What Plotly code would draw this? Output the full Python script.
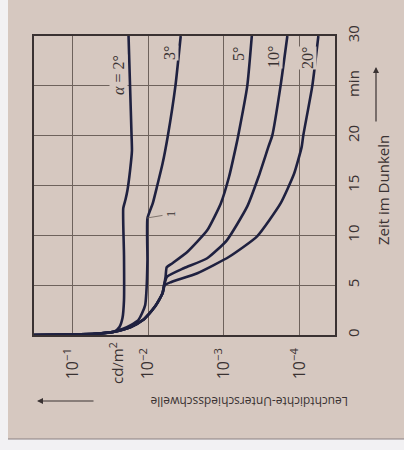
import plotly.graph_objects as go

# ---- data (time in min, threshold as log10 of cd/m^2) ----
t_2 = [0, 0.05, 0.12, 0.33, 0.8, 1.7, 3.5, 8, 12.7, 13.6, 14.5, 16.5, 18.5, 20, 25, 30]
l_2 = [-0.49, -1.0, -1.3, -1.55, -1.62, -1.66, -1.68, -1.68, -1.67, -1.70, -1.725, -1.76, -1.785, -1.78, -1.76, -1.74]

t_3 = [0, 0.05, 0.12, 0.33, 0.6, 1.0, 1.5, 2.2, 3.0, 4.2, 7.5, 11.7, 13.2, 15, 17.2, 20, 25, 30]
l_3 = [-0.49, -1.0, -1.3, -1.55, -1.66, -1.77, -1.87, -1.92, -1.96, -1.975, -1.99, -1.99, -2.06, -2.12, -2.19, -2.26, -2.36, -2.43]

t_5 = [0, 0.05, 0.12, 0.33, 0.8, 1.5, 2.2, 2.85, 3.6, 4.2, 5.0, 5.85, 6.8, 7.2, 8.35, 10.5, 13.2, 15.9, 18.9, 20, 25, 30]
l_5 = [-0.49, -1.0, -1.3, -1.55, -1.77, -1.93, -2.02, -2.09, -2.15, -2.19, -2.21, -2.23, -2.245, -2.32, -2.52, -2.78, -2.96, -3.07, -3.16, -3.19, -3.31, -3.37]

t_10 = [0, 0.05, 0.12, 0.33, 0.8, 1.5, 2.2, 2.85, 3.6, 4.2, 5.0, 5.85, 6.7, 7.7, 9.5, 12.9, 15.9, 18.9, 20, 25, 30]
l_10 = [-0.49, -1.0, -1.3, -1.55, -1.77, -1.93, -2.02, -2.09, -2.15, -2.19, -2.21, -2.25, -2.47, -2.78, -3.04, -3.31, -3.46, -3.59, -3.64, -3.75, -3.84]

t_20 = [0, 0.05, 0.12, 0.33, 0.8, 1.5, 2.2, 2.85, 3.6, 4.2, 5.0, 5.3, 6.2, 7.85, 9.9, 13.2, 16.2, 18.9, 20, 25, 30]
l_20 = [-0.49, -1.0, -1.3, -1.55, -1.77, -1.93, -2.02, -2.09, -2.15, -2.19, -2.22, -2.30, -2.65, -3.07, -3.44, -3.75, -3.93, -4.03, -4.05, -4.17, -4.25]

curves = [("α = 2°", t_2, l_2), ("3°", t_3, l_3), ("5°", t_5, l_5), ("10°", t_10, l_10), ("20°", t_20, l_20)]

lum_ticks = [1e-1, 1e-2, 1e-3, 1e-4]
lum_ticktext = ["10<sup>−1</sup>", "10<sup>−2</sup>", "10<sup>−3</sup>", "10<sup>−4</sup>"]
time_ticks = [0, 5, 10, 15, 20, 25, 30]
time_ticktext = ["0", "5", "10", "15", "20", "min", "30"]

# ---- styling ----
W, H = 404, 450
L_M, R_M, T_M, B_M = 34, 69, 36, 115
PW, PH = W - L_M - R_M, H - T_M - B_M
PAPER = "#d6c8c0"
INK = "#3a3232"
CURVE = "#1f2140"
GRID = "#6e625c"


def px(x):
    return (x - L_M) / PW


def py(y):
    return (H - B_M - y) / PH


fig = go.Figure()
for name, t, l in curves:
    fig.add_trace(go.Scatter(
        x=[10 ** v for v in l], y=t, mode="lines", name=name,
        line=dict(color=CURVE, width=2.6, shape="spline", smoothing=0.5),
        showlegend=False, hoverinfo="skip"))

fig.add_shape(type="rect", xref="paper", yref="paper",
              x0=px(8), x1=px(410), y0=py(439), y1=py(-5),
              fillcolor=PAPER, line=dict(width=0), layer="below")
fig.add_shape(type="line", xref="paper", yref="paper",
              x0=px(8), x1=px(410), y0=py(439), y1=py(439),
              line=dict(color="#8a8082", width=1.2), layer="below")

tickfont = dict(family="Open Sans, sans-serif", size=16, color=INK)
fig.update_xaxes(type="log", range=[-0.49, -4.47], tickvals=lum_ticks, ticktext=lum_ticktext,
                 tickangle=-90, tickfont=tickfont, ticks="", ticklabelstandoff=5,
                 showgrid=True, gridcolor=GRID, gridwidth=1,
                 showline=True, mirror=True, linecolor="#3a3232", linewidth=1.6, zeroline=False)
fig.update_yaxes(range=[0, 30], side="right", tickvals=time_ticks, ticktext=time_ticktext,
                 tickangle=-90, tickfont=dict(family="Open Sans, sans-serif", size=15, color=INK),
                 ticks="", ticklabelstandoff=4,
                 showgrid=True, gridcolor=GRID, gridwidth=1,
                 showline=True, mirror=True, linecolor="#3a3232", linewidth=1.6, zeroline=False)


def label(text, x, y, angle, font, **kw):
    fig.add_annotation(xref="paper", yref="paper", x=px(x), y=py(y), text=text, textangle=angle,
                       xanchor="center", yanchor="middle", showarrow=False, font=font, **kw)


serif = dict(family="Liberation Serif, serif", size=16, color=INK)
label_pos = [("<i>α</i> = 2°", 118, 75), ("3°", 170, 53), ("5°", 239, 54), ("10°", 274, 57), ("20°", 308, 58)]
for text, x, y in label_pos:
    label(text, x, y, -90, serif, bgcolor=PAPER, borderpad=0)

# curve marker "1"
fig.add_annotation(xref="paper", yref="paper", x=px(147), y=py(218), ax=24, ay=-4,
                   text="1", textangle=-90, showarrow=True, arrowhead=0, arrowwidth=0.8,
                   arrowcolor="#6a5e58", font=dict(family="Liberation Serif, serif", size=12, color=INK))

# unit label
label("cd/m<sup>2</sup>", 116, 363, -90, dict(family="Open Sans, sans-serif", size=15, color=INK))

# axis titles
label("Zeit im Dunkeln", 383, 190, -90, dict(family="Open Sans, sans-serif", size=15, color=INK))
fig.add_annotation(xref="paper", yref="paper", x=px(376), y=py(67), ax=0, ay=56, text="",
                   showarrow=True, arrowhead=2, arrowsize=1, arrowwidth=1.2, arrowcolor=INK)
label("Leuchtdichte-Unterschiedsschwelle", 249, 402, 180,
      dict(family="Open Sans, sans-serif", size=12, color=INK))
fig.add_annotation(xref="paper", yref="paper", x=px(37), y=py(401), ax=58, ay=0, text="",
                   showarrow=True, arrowhead=2, arrowsize=1, arrowwidth=1.2, arrowcolor=INK)

fig.update_layout(width=W, height=H, autosize=False,
                  margin=dict(l=L_M, r=R_M, t=T_M, b=B_M),
                  paper_bgcolor="#f2f1f3", plot_bgcolor=PAPER)

fig.write_html("out.html")
